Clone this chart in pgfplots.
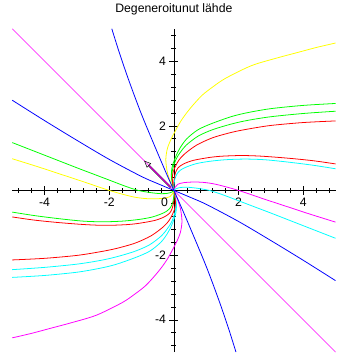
\documentclass[border=0pt]{standalone}
\usepackage{fontspec}
\setmainfont{Liberation Sans}
\usepackage{pgfplots}
\pgfplotsset{compat=1.18}
\usetikzlibrary{arrows.meta}
\definecolor{mmag}{RGB}{255,0,255}
\definecolor{mcyan}{RGB}{0,255,255}
\definecolor{myel}{RGB}{255,255,0}
\definecolor{mgreen}{RGB}{0,255,0}
\definecolor{mred}{RGB}{255,0,0}
\definecolor{mblue}{RGB}{0,0,255}
\begin{document}
\begin{tikzpicture}
\begin{axis}[name=ax, width=330pt, height=330pt, scale only axis,
 xmin=-5,xmax=5,ymin=-5,ymax=5,
 axis lines=middle,
 axis line style={-, black, line width=0.6pt},
 every inner x axis line/.append style={-},
 every inner y axis line/.append style={-},
 xtick={-4,-2,2,4}, ytick={-4,-2,2,4},
 xticklabels={-4,-2,2,4}, yticklabels={-4,-2,2,4},
 minor xtick={-4.8,-4.4,-3.6,-3.2,-2.8,-2.4,-1.6,-1.2,-0.8,-0.4,0.4,0.8,1.2,1.6,2.4,2.8,3.2,3.6,4.4,4.8},
 minor ytick={-4.8,-4.4,-3.6,-3.2,-2.8,-2.4,-1.6,-1.2,-0.8,-0.4,0.4,0.8,1.2,1.6,2.4,2.8,3.2,3.6,4.4,4.8},
 tick align=center,
 major tick length=9pt, minor tick length=5pt,
 tick style={black, line width=0.5pt},
 tick label style={font=\fontsize{12.5}{14}\selectfont},
 title={Degeneroitunut lähde},
 title style={at={(0.5,1)}, anchor=base, yshift=11pt, font=\fontsize{12.5}{14}\selectfont},
 every axis plot/.append style={line width=0.8pt, smooth, tension=0.5},
]
% eigen line
\addplot[mmag, line width=0.6pt, sharp plot] coordinates {(-5,5) (5,-5)};
% R1 yellow and mirror magenta
\addplot[myel] coordinates {(0,0)(-0.1,0.25)(-0.2,0.55)(-0.25,0.95)(-0.2,1.3)(-0.08,1.6)(0.05,1.85)(0.2,2.12)(0.38,2.38)(0.6,2.65)(0.88,2.95)(1.2,3.2)(1.6,3.47)(2.4,3.86)(3.2,4.1)(3.8,4.26)(4.4,4.42)(5,4.56)};
\addplot[mmag] coordinates {(0,0)(0.1,-0.25)(0.2,-0.55)(0.25,-0.95)(0.2,-1.3)(0.08,-1.6)(-0.05,-1.85)(-0.2,-2.12)(-0.38,-2.38)(-0.6,-2.65)(-0.88,-2.95)(-1.2,-3.2)(-1.6,-3.47)(-2.4,-3.86)(-3.2,-4.1)(-3.8,-4.26)(-4.4,-4.42)(-5,-4.56)};
% R2 green and mirror cyan
\addplot[mgreen] coordinates {(0,0)(-0.04,0.2)(-0.08,0.45)(-0.06,0.7)(0.0,0.9)(0.08,1.1)(0.2,1.33)(0.4,1.6)(0.75,1.88)(1.2,2.08)(1.8,2.29)(2.3,2.41)(3,2.53)(4,2.63)(5,2.69)};
\addplot[mcyan] coordinates {(0,0)(0.04,-0.2)(0.08,-0.45)(0.06,-0.7)(0.0,-0.9)(-0.08,-1.1)(-0.2,-1.33)(-0.4,-1.6)(-0.75,-1.88)(-1.2,-2.08)(-1.8,-2.29)(-2.3,-2.41)(-3,-2.53)(-4,-2.63)(-5,-2.69)};
% R3 green and mirror cyan
\addplot[mgreen] coordinates {(0,0)(-0.04,0.2)(-0.07,0.42)(-0.04,0.65)(0.02,0.85)(0.1,1.03)(0.2,1.18)(0.38,1.4)(0.75,1.68)(1.2,1.88)(1.8,2.06)(2.3,2.17)(3,2.28)(4,2.38)(5,2.45)};
\addplot[mcyan] coordinates {(0,0)(0.04,-0.2)(0.07,-0.42)(0.04,-0.65)(-0.02,-0.85)(-0.1,-1.03)(-0.2,-1.18)(-0.38,-1.4)(-0.75,-1.68)(-1.2,-1.88)(-1.8,-2.06)(-2.3,-2.17)(-3,-2.28)(-4,-2.38)(-5,-2.45)};
% R4 red and mirror red
\addplot[mred] coordinates {(0,0)(-0.03,0.18)(-0.05,0.38)(-0.02,0.58)(0.05,0.75)(0.15,0.93)(0.32,1.12)(0.7,1.4)(1.2,1.63)(1.8,1.8)(2.3,1.9)(3,2.01)(4,2.1)(5,2.15)};
\addplot[mred] coordinates {(0,0)(0.03,-0.18)(0.05,-0.38)(0.02,-0.58)(-0.05,-0.75)(-0.15,-0.93)(-0.32,-1.12)(-0.7,-1.4)(-1.2,-1.63)(-1.8,-1.8)(-2.3,-1.9)(-3,-2.01)(-4,-2.1)(-5,-2.15)};
% R5 red and mirror red
\addplot[mred] coordinates {(0,0)(-0.01,0.15)(0.01,0.35)(0.05,0.55)(0.13,0.7)(0.3,0.82)(0.6,0.93)(1.1,1.02)(1.5,1.06)(2.1,1.08)(2.7,1.06)(3.5,1.0)(4.3,0.92)(5,0.82)};
\addplot[mred] coordinates {(0,0)(0.01,-0.15)(-0.01,-0.35)(-0.05,-0.55)(-0.13,-0.7)(-0.3,-0.82)(-0.6,-0.93)(-1.1,-1.02)(-1.5,-1.06)(-2.1,-1.08)(-2.7,-1.06)(-3.5,-1.0)(-4.3,-0.92)(-5,-0.82)};
% R6 cyan and mirror green
\addplot[mcyan] coordinates {(0,0)(0.0,0.15)(0.03,0.35)(0.1,0.52)(0.22,0.64)(0.4,0.73)(0.7,0.83)(1.1,0.9)(1.6,0.95)(2.2,0.97)(2.8,0.95)(3.5,0.88)(4.3,0.78)(5,0.67)};
\addplot[mgreen] coordinates {(0,0)(0.0,-0.15)(-0.03,-0.35)(-0.1,-0.52)(-0.22,-0.64)(-0.4,-0.73)(-0.7,-0.83)(-1.1,-0.9)(-1.6,-0.95)(-2.2,-0.97)(-2.8,-0.95)(-3.5,-0.88)(-4.3,-0.78)(-5,-0.67)};
% R7 magenta and mirror yellow
\addplot[mmag] coordinates {(0,0)(0.04,0.1)(0.12,0.19)(0.3,0.24)(0.6,0.26)(0.9,0.25)(1.3,0.19)(2.0,0.0)(2.8,-0.27)(3.5,-0.5)(4.2,-0.73)(5,-0.98)};
\addplot[myel] coordinates {(0,0)(-0.04,-0.1)(-0.12,-0.19)(-0.3,-0.24)(-0.6,-0.26)(-0.9,-0.25)(-1.3,-0.19)(-2.0,0.0)(-2.8,0.27)(-3.5,0.5)(-4.2,0.73)(-5,0.98)};
% R8 cyan and mirror green
\addplot[mcyan] coordinates {(0,0)(0.06,0.05)(0.2,0.09)(0.4,0.1)(0.7,0.07)(1.1,0)(1.5,-0.13)(2.0,-0.32)(2.5,-0.51)(3,-0.7)(4,-1.09)(5,-1.48)};
\addplot[mgreen] coordinates {(0,0)(-0.06,-0.05)(-0.2,-0.09)(-0.4,-0.1)(-0.7,-0.07)(-1.1,0)(-1.5,0.13)(-2.0,0.32)(-2.5,0.51)(-3,0.7)(-4,1.09)(-5,1.48)};
% R9 blue and mirror
\addplot[mblue] coordinates {(0,0)(0.5,-0.21)(1,-0.43)(2,-0.96)(3,-1.55)(4,-2.16)(5,-2.79)};
\addplot[mblue] coordinates {(0,0)(-0.5,0.21)(-1,0.43)(-2,0.96)(-3,1.55)(-4,2.16)(-5,2.79)};
% R11 steep blue and mirror
\addplot[mblue] coordinates {(0,0)(0.2,-0.45)(0.5,-1.15)(1.0,-2.35)(1.4,-3.42)(1.7,-4.3)(1.92,-5.0)};
\addplot[mblue] coordinates {(0,0)(-0.2,0.45)(-0.5,1.15)(-1.0,2.35)(-1.4,3.42)(-1.7,4.3)(-1.92,5.0)};
% arrow
\addplot[black, line width=0.5pt, double=mmag, double distance=0.8pt, sharp plot, -{Triangle[open, length=7pt, width=6pt]}] coordinates {(-0.1,0.1) (-0.92,0.92)};
\node[anchor=north east, inner sep=0pt, font=\fontsize{12.5}{14}\selectfont] at ([xshift=-6pt,yshift=-7pt]axis cs:0,0) {0};
\end{axis}
\path[use as bounding box] ([xshift=-12.5pt,yshift=-4pt]ax.south west) rectangle ([xshift=13pt,yshift=22pt]ax.north east);
\end{tikzpicture}
\end{document}
